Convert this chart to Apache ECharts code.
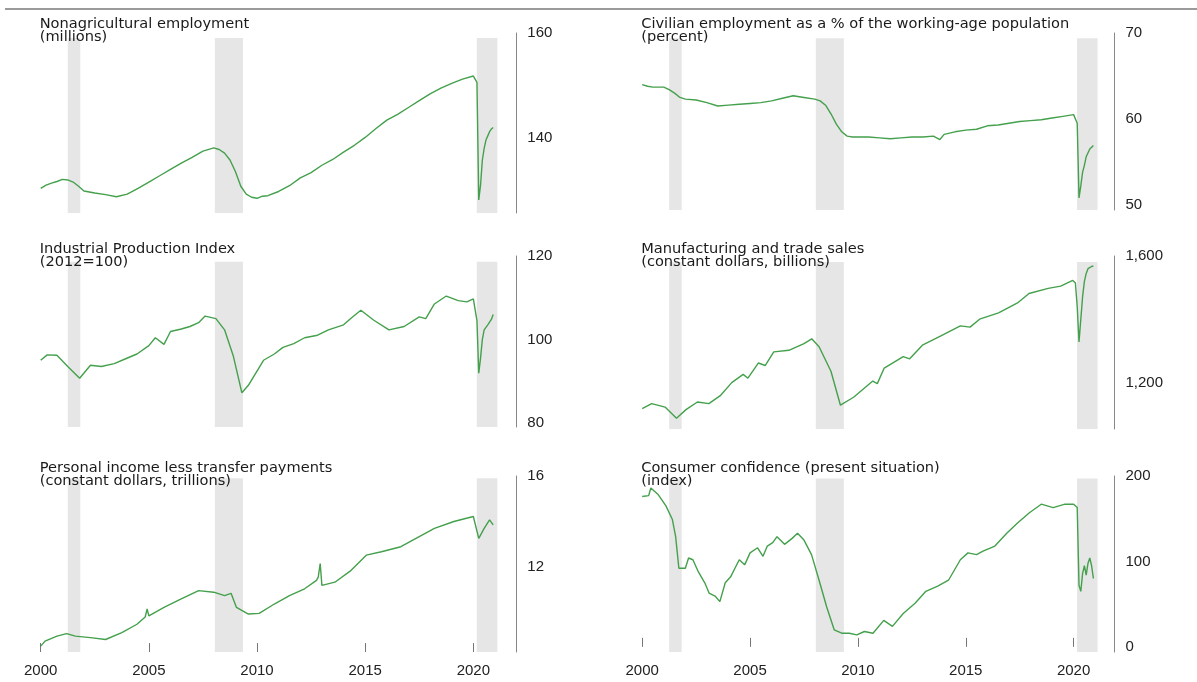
<!DOCTYPE html>
<html>
<head>
<meta charset="utf-8">
<script src="https://cdn.jsdelivr.net/npm/echarts@6/dist/echarts.min.js"></script>
<style>
  html, body { margin: 0; padding: 0; background: #fff; }
  #main { width: 1197px; height: 682px; }
</style>
</head>
<body>
<div id="main"></div>
<script>
// recession shading (start, end) in years
const recessions = [[2001.25, 2001.83], [2008.05, 2009.35], [2020.16, 2021.11]];
const yearTicks = [2000, 2005, 2010, 2015, 2020];

// [year, value]
const payrolls = [
    [2000.0, 130.4], [2000.25, 131.0], [2000.5, 131.4], [2000.75, 131.7], [2001.0, 132.1], [2001.25, 132.0],
    [2001.5, 131.6], [2001.75, 130.8], [2002.0, 129.9], [2002.5, 129.5], [2003.0, 129.2], [2003.5, 128.8],
    [2004.0, 129.3], [2004.5, 130.4], [2005.0, 131.6], [2005.5, 132.8], [2006.0, 134.0], [2006.5, 135.2],
    [2007.0, 136.3], [2007.5, 137.5], [2008.0, 138.1], [2008.25, 137.8], [2008.5, 137.1], [2008.75, 135.8],
    [2009.0, 133.6], [2009.25, 130.8], [2009.5, 129.3], [2009.75, 128.7], [2010.0, 128.5], [2010.25, 128.9],
    [2010.5, 129.0], [2011.0, 129.8], [2011.5, 130.9], [2012.0, 132.4], [2012.5, 133.4], [2013.0, 134.8],
    [2013.5, 135.9], [2014.0, 137.3], [2014.5, 138.6], [2015.0, 140.1], [2015.5, 141.8], [2016.0, 143.4],
    [2016.5, 144.5], [2017.0, 145.8], [2017.5, 147.1], [2018.0, 148.4], [2018.5, 149.5], [2019.0, 150.4],
    [2019.5, 151.2], [2020.0, 151.8], [2020.083, 152.0], [2020.167, 150.6], [2020.25, 128.2], [2020.333, 131.0],
    [2020.417, 135.8], [2020.5, 138.0], [2020.583, 139.6], [2020.667, 140.4], [2020.75, 141.2], [2020.833, 141.7],
    [2020.917, 142.0]
];

const empPop = [
    [2000.0, 64.0], [2000.25, 63.8], [2000.5, 63.7], [2000.75, 63.7], [2001.0, 63.7], [2001.25, 63.4],
    [2001.5, 63.0], [2001.75, 62.5], [2002.0, 62.3], [2002.5, 62.2], [2003.0, 61.9], [2003.5, 61.5],
    [2004.0, 61.6], [2004.5, 61.7], [2005.0, 61.8], [2005.5, 61.9], [2006.0, 62.1], [2006.5, 62.4],
    [2007.0, 62.7], [2007.5, 62.5], [2008.0, 62.3], [2008.25, 62.1], [2008.5, 61.6], [2008.75, 60.6],
    [2009.0, 59.4], [2009.25, 58.5], [2009.5, 58.0], [2009.75, 57.9], [2010.0, 57.9], [2010.5, 57.9],
    [2011.0, 57.8], [2011.5, 57.7], [2012.0, 57.8], [2012.5, 57.9], [2013.0, 57.9], [2013.5, 58.0],
    [2013.8, 57.6], [2014.0, 58.2], [2014.5, 58.5], [2015.0, 58.7], [2015.5, 58.8], [2016.0, 59.2],
    [2016.5, 59.3], [2017.0, 59.5], [2017.5, 59.7], [2018.0, 59.8], [2018.5, 59.9], [2019.0, 60.1],
    [2019.5, 60.3], [2020.0, 60.5], [2020.083, 60.5], [2020.167, 59.5], [2020.25, 50.8], [2020.333, 52.2],
    [2020.417, 53.8], [2020.5, 54.6], [2020.583, 55.6], [2020.667, 55.8], [2020.75, 56.5], [2020.833, 56.7],
    [2020.917, 56.9]
];

const industrial = [
    [2000.0, 95.0], [2000.3, 96.3], [2000.75, 96.2], [2001.25, 93.5], [2001.8, 90.7], [2002.3, 93.8],
    [2002.8, 93.5], [2003.4, 94.2], [2003.9, 95.3], [2004.45, 96.5], [2005.0, 98.5], [2005.3, 100.4],
    [2005.7, 98.8], [2006.0, 101.9], [2006.5, 102.5], [2006.9, 103.1], [2007.3, 104.0], [2007.6, 105.6],
    [2008.1, 105.0], [2008.5, 102.3], [2008.9, 96.1], [2009.3, 87.2], [2009.6, 89.0], [2010.3, 95.0],
    [2010.8, 96.5], [2011.2, 98.1], [2011.7, 99.0], [2012.2, 100.4], [2012.8, 101.0], [2013.3, 102.3],
    [2014.0, 103.5], [2014.4, 105.3], [2014.8, 107.0], [2015.4, 104.6], [2016.1, 102.3], [2016.8, 103.1],
    [2017.5, 105.4], [2017.8, 105.0], [2018.2, 108.5], [2018.75, 110.4], [2019.3, 109.3], [2019.7, 109.0],
    [2020.0, 109.7], [2020.083, 109.5], [2020.167, 104.5], [2020.25, 91.9], [2020.333, 95.5], [2020.417, 100.0],
    [2020.5, 102.3], [2020.667, 103.5], [2020.833, 104.8], [2020.917, 106.0]
];

const mfgSales = [
    [2000.0, 1119], [2000.44, 1135], [2001.06, 1124], [2001.59, 1089], [2002.03, 1116], [2002.56, 1140],
    [2003.09, 1135], [2003.62, 1160], [2004.15, 1201], [2004.68, 1227], [2004.9, 1215], [2005.39, 1263],
    [2005.7, 1255], [2006.1, 1298], [2006.8, 1303], [2007.5, 1324], [2007.86, 1339], [2008.2, 1314],
    [2008.75, 1237], [2009.19, 1130], [2009.8, 1155], [2010.69, 1206], [2010.9, 1198], [2011.22, 1247],
    [2012.1, 1283], [2012.4, 1276], [2012.99, 1319], [2013.87, 1349], [2014.75, 1380], [2015.2, 1376],
    [2015.64, 1401], [2016.52, 1421], [2017.4, 1452], [2017.93, 1482], [2018.82, 1498], [2019.4, 1505],
    [2019.96, 1523], [2020.083, 1515], [2020.167, 1440], [2020.25, 1329], [2020.333, 1400], [2020.417, 1472],
    [2020.5, 1520], [2020.583, 1545], [2020.667, 1560], [2020.75, 1564], [2020.833, 1567], [2020.917, 1569]
];

const income = [
    [2000.0, 8.52], [2000.2, 8.74], [2000.75, 8.96], [2001.2, 9.07], [2001.6, 8.96], [2002.3, 8.89],
    [2003.0, 8.81], [2003.75, 9.11], [2004.45, 9.48], [2004.83, 9.80], [2004.92, 10.15], [2005.0, 9.85],
    [2005.7, 10.22], [2006.4, 10.55], [2007.3, 10.96], [2008.0, 10.89], [2008.5, 10.74], [2008.8, 10.84],
    [2009.05, 10.22], [2009.6, 9.93], [2010.1, 9.96], [2010.8, 10.37], [2011.5, 10.74], [2012.2, 11.04],
    [2012.75, 11.41], [2012.83, 11.55], [2012.92, 12.15], [2013.0, 11.19], [2013.6, 11.33], [2014.35, 11.85],
    [2015.05, 12.52], [2015.75, 12.67], [2016.65, 12.89], [2017.35, 13.26], [2018.2, 13.70], [2019.1, 14.0],
    [2020.0, 14.22], [2020.083, 14.25], [2020.25, 13.26], [2020.5, 13.70], [2020.75, 14.07], [2020.917, 13.85]
];

const confidence = [
    [2000.0, 176], [2000.3, 177], [2000.4, 186], [2000.75, 178], [2001.1, 165], [2001.4, 149],
    [2001.55, 129], [2001.7, 92], [2002.0, 92], [2002.15, 104], [2002.35, 102], [2002.6, 88],
    [2002.9, 75], [2003.1, 63], [2003.4, 59], [2003.6, 53], [2003.85, 75], [2004.1, 82],
    [2004.3, 92], [2004.5, 102], [2004.75, 96], [2005.0, 110], [2005.35, 116], [2005.6, 106],
    [2005.8, 118], [2006.05, 122], [2006.25, 129], [2006.6, 120], [2006.95, 127], [2007.2, 133],
    [2007.5, 125], [2007.85, 108], [2008.2, 78], [2008.55, 47], [2008.9, 20], [2009.25, 16],
    [2009.6, 16], [2009.95, 14], [2010.3, 18], [2010.7, 16], [2011.2, 31], [2011.6, 24],
    [2012.1, 39], [2012.65, 51], [2013.15, 65], [2013.7, 71], [2014.2, 78], [2014.75, 102],
    [2015.1, 110], [2015.5, 108], [2015.8, 112], [2016.35, 118], [2016.9, 133], [2017.4, 145],
    [2017.95, 157], [2018.5, 167], [2019.05, 163], [2019.6, 167], [2020.0, 167], [2020.083, 165],
    [2020.167, 163], [2020.25, 72], [2020.333, 65], [2020.417, 86], [2020.5, 95], [2020.583, 84],
    [2020.667, 98], [2020.75, 104], [2020.833, 95], [2020.917, 80]
];

const panels = [
    { title: 'Nonagricultural employment\n(millions)', data: payrolls, col: 0, top: 33, height: 180, min: 125.7, max: 160, labels: [140, 160], bandTop: 159.05, titleTop: 18 },
    { title: 'Civilian employment as a % of the working-age population\n(percent)', data: empPop, col: 1, top: 33, height: 177, min: 49.4, max: 70, labels: [50, 60, 70], bandTop: 69.4, titleTop: 18 },
    { title: 'Industrial Production Index\n(2012=100)', data: industrial, col: 0, top: 256, height: 171, min: 79, max: 120, labels: [80, 100, 120], bandTop: 118.6, titleTop: 243 },
    { title: 'Manufacturing and trade sales\n(constant dollars, billions)', data: mfgSales, col: 1, top: 256, height: 173, min: 1055, max: 1600, labels: [1200, 1600], bandTop: 1581, titleTop: 243 },
    { title: 'Personal income less transfer payments\n(constant dollars, trillions)', data: income, col: 0, top: 476, height: 176, min: 8.26, max: 16, labels: [12, 16], bandTop: 15.9, titleTop: 462 },
    { title: 'Consumer confidence (present situation)\n(index)', data: confidence, col: 1, top: 476, height: 176, min: -6, max: 200, labels: [0, 100, 200], bandTop: 197, titleTop: 462 }
];

const colLeft = [40.7, 642.2];
const colWidth = [458.6, 457.3];
const colOffset = [17, 15];

function fmt(v) {
    return String(v).replace(/\B(?=(\d{3})+(?!\d))/g, ',');
}

var chart = echarts.init(document.getElementById('main'));

var option = {
    animation: false,
    backgroundColor: '#fff',
    graphic: [
        { type: 'rect', shape: { x: 5, y: 8, width: 1192, height: 2 }, style: { fill: '#9a9a9a' } }
    ],
    title: [],
    grid: [],
    xAxis: [],
    yAxis: [],
    series: []
};

panels.forEach(function(p, i) {
    var bottomRow = i >= 4;
    option.title.push({
        text: p.title,
        left: colLeft[p.col] - 1,
        top: p.titleTop,
        padding: 0,
        textStyle: { fontFamily: 'DejaVu Sans', fontSize: 14.6, fontWeight: 'normal', color: '#1a1a1a', lineHeight: 13 }
    });
    option.grid.push({
        left: colLeft[p.col], width: colWidth[p.col], top: p.top, height: p.height,
        containLabel: false, outerBoundsMode: 'none'
    });
    option.xAxis.push({
        type: 'value', gridIndex: i, min: 2000, max: 2021.2,
        show: bottomRow,
        axisLine: { show: false },
        axisTick: { show: true, inside: true, length: 9, customValues: yearTicks, lineStyle: { color: '#777' } },
        axisLabel: { customValues: yearTicks, margin: 11, color: '#222', fontFamily: 'Liberation Sans', fontSize: 15, formatter: function(v) { return String(v); } },
        splitLine: { show: false }
    });
    option.yAxis.push({
        type: 'value', gridIndex: i, position: 'right', offset: colOffset[p.col],
        min: p.min, max: p.max,
        axisLine: { show: true, lineStyle: { color: '#888', width: 1 } },
        axisTick: { show: false },
        splitLine: { show: false },
        axisLabel: { customValues: p.labels, margin: 11, color: '#222', fontFamily: 'Liberation Sans', fontSize: 15, formatter: fmt }
    });
    option.series.push({
        type: 'line', xAxisIndex: i, yAxisIndex: i,
        data: p.data, showSymbol: false, silent: true,
        lineStyle: { color: '#44a04c', width: 1.4 },
        markArea: {
            silent: true,
            itemStyle: { color: '#e6e6e6' },
            data: recessions.map(function(r) { return [{ xAxis: r[0], yAxis: p.bandTop }, { xAxis: r[1], yAxis: p.min }]; })
        }
    });
});

chart.setOption(option);
</script>
</body>
</html>
